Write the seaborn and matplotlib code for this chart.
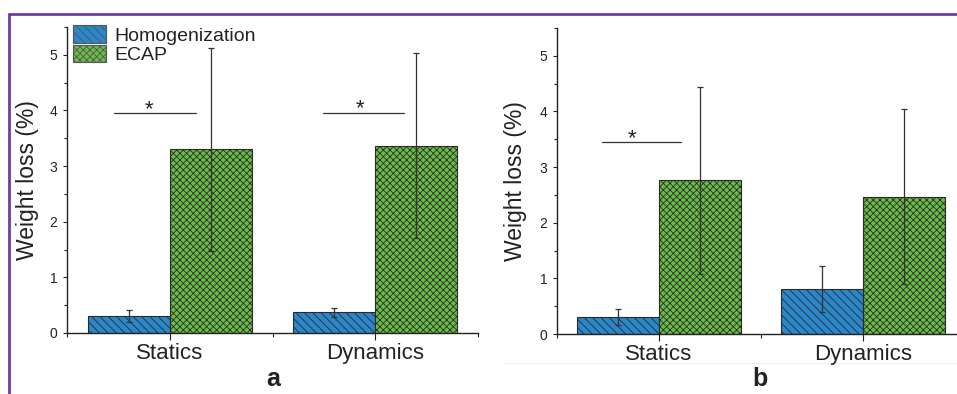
import matplotlib
matplotlib.use("Agg")
import matplotlib.pyplot as plt
from matplotlib.patches import Patch
from matplotlib.lines import Line2D
from matplotlib.ticker import MultipleLocator, FixedLocator
import seaborn as sns
import pandas as pd

# ---------------- data ----------------
categories = ["Statics", "Dynamics"]
groups = ["Homogenization", "ECAP"]

a_homog = [0.31, 0.37]
a_homog_err = [0.11, 0.08]
a_ecap = [3.30, 3.37]
a_ecap_err = [1.83, 1.66]

b_homog = [0.31, 0.81]
b_homog_err = [0.14, 0.41]
b_ecap = [2.76, 2.47]
b_ecap_err = [1.68, 1.58]

# significance bars (x start, x end, y, star x)
sig_a_x0 = [-0.27, 0.745]
sig_a_x1 = [0.13, 1.14]
sig_a_y = [3.95, 3.96]
sig_a_star = [-0.10, 0.925]

sig_b_x0 = [-0.28]
sig_b_x1 = [0.11]
sig_b_y = [3.45]
sig_b_star = [-0.13]

panel_labels = ["a", "b"]
ylabel = "Weight loss (%)"

# ---------------- style ----------------
blue = "#2a87c9"
green = "#69bd45"
palette = {"Homogenization": blue, "ECAP": green}
hatches = {"Homogenization": "\\\\\\\\", "ECAP": "xxxxx"}

sns.set_theme(style="ticks")
plt.rcParams["font.family"] = ["Liberation Sans", "DejaVu Sans"]
plt.rcParams["hatch.linewidth"] = 0.6

fig = plt.figure(figsize=(9.57, 3.94), dpi=100)
W, H = 957.0, 394.0
ax_a = fig.add_axes([67 / W, (H - 333) / H, 411 / W, 306 / H])
ax_b = fig.add_axes([557 / W, (H - 334) / H, 408 / W, 306 / H])


def make_df(homog, ecap):
    rows = []
    for c, v in zip(categories, homog):
        rows.append({"cat": c, "group": "Homogenization", "val": v})
    for c, v in zip(categories, ecap):
        rows.append({"cat": c, "group": "ECAP", "val": v})
    return pd.DataFrame(rows)


def draw_panel(ax, homog, homog_err, ecap, ecap_err, sx0, sx1, sy, sstar, label_x):
    df = make_df(homog, ecap)
    sns.barplot(data=df, x="cat", y="val", hue="group", order=categories,
                hue_order=groups, palette=palette, saturation=1, width=0.8,
                errorbar=None, edgecolor="#2a2a2a", linewidth=0.8, ax=ax,
                legend=False, zorder=2)
    errs = {"Homogenization": homog_err, "ECAP": ecap_err}
    for g, cont in zip(groups, ax.containers):
        xs, ys = [], []
        for bar in cont:
            bar.set_hatch(hatches[g])
            xs.append(bar.get_x() + bar.get_width() / 2)
            ys.append(bar.get_height())
        ax.errorbar(xs, ys, yerr=errs[g], fmt="none", ecolor="#333333",
                    elinewidth=0.9, capsize=2.5, capthick=0.9, zorder=3)
    for x0, x1, y, st in zip(sx0, sx1, sy, sstar):
        ax.plot([x0, x1], [y, y], color="#333333", lw=0.9, zorder=3)
        ax.text(st, y - 0.03, "*", ha="center", va="baseline", fontsize=16,
                color="#222222")

    ax.set_xlim(-0.5, 1.5)
    ax.set_ylim(0, 5.5)
    ax.yaxis.set_major_locator(MultipleLocator(1))
    ax.yaxis.set_minor_locator(MultipleLocator(0.5))
    ax.xaxis.set_minor_locator(FixedLocator([-0.5, 0.5, 1.5]))
    ax.set_xlabel("")
    ax.set_ylabel(ylabel, fontsize=16.5, color="#222222")
    ax.yaxis.set_label_coords(label_x, 0.5)
    for s in ["top", "right"]:
        ax.spines[s].set_visible(False)
    for s in ["left", "bottom"]:
        ax.spines[s].set_linewidth(1.0)
        ax.spines[s].set_color("#222222")
    ax.tick_params(axis="y", which="major", direction="out", length=3, width=0.8,
                   labelsize=10, pad=4, colors="#222222")
    ax.tick_params(axis="y", which="minor", direction="out", length=2, width=0.8,
                   colors="#222222")
    ax.tick_params(axis="x", which="major", direction="out", length=5, width=0.8,
                   labelsize=16, pad=2, colors="#222222")
    ax.tick_params(axis="x", which="minor", direction="out", length=3, width=0.8,
                   colors="#222222")
    ax.set_facecolor("white")


draw_panel(ax_a, a_homog, a_homog_err, a_ecap, a_ecap_err,
           sig_a_x0, sig_a_x1, sig_a_y, sig_a_star, -0.069)
draw_panel(ax_b, b_homog, b_homog_err, b_ecap, b_ecap_err,
           sig_b_x0, sig_b_x1, sig_b_y, sig_b_star, -0.0735)

# legend
handles = [Patch(facecolor=palette[g], edgecolor="#555555", hatch=hatches[g],
                 linewidth=0.8) for g in groups]
ax_a.legend(handles, groups, loc="upper left", bbox_to_anchor=(0.0146, 1.005),
            frameon=False, fontsize=14, handlelength=1.7, handleheight=1.0,
            labelspacing=0.0, handletextpad=0.45, borderpad=0,
            borderaxespad=0, labelcolor="#222222")

# panel labels
fig.text(273 / W, 1 - 379 / H, panel_labels[0], ha="center", va="center",
         fontsize=18, fontweight="bold", color="#222222")
fig.text(760 / W, 1 - 379 / H, panel_labels[1], ha="center", va="center",
         fontsize=18, fontweight="bold", color="#222222")

# purple frame and faint separator
purple = "#6b3fa0"
fig.add_artist(Line2D([8.5 / W, 1.0], [1 - 13.5 / H, 1 - 13.5 / H],
                      color=purple, lw=2.0, transform=fig.transFigure))
fig.add_artist(Line2D([8.5 / W, 8.5 / W], [1 - 13.5 / H, 0.0],
                      color=purple, lw=2.0, transform=fig.transFigure))
fig.add_artist(Line2D([503 / W, 1.0], [1 - 363 / H, 1 - 363 / H],
                      color="#eeeeee", lw=0.8, transform=fig.transFigure,
                      zorder=0))

fig.savefig("out.png", dpi=100, facecolor="white")
